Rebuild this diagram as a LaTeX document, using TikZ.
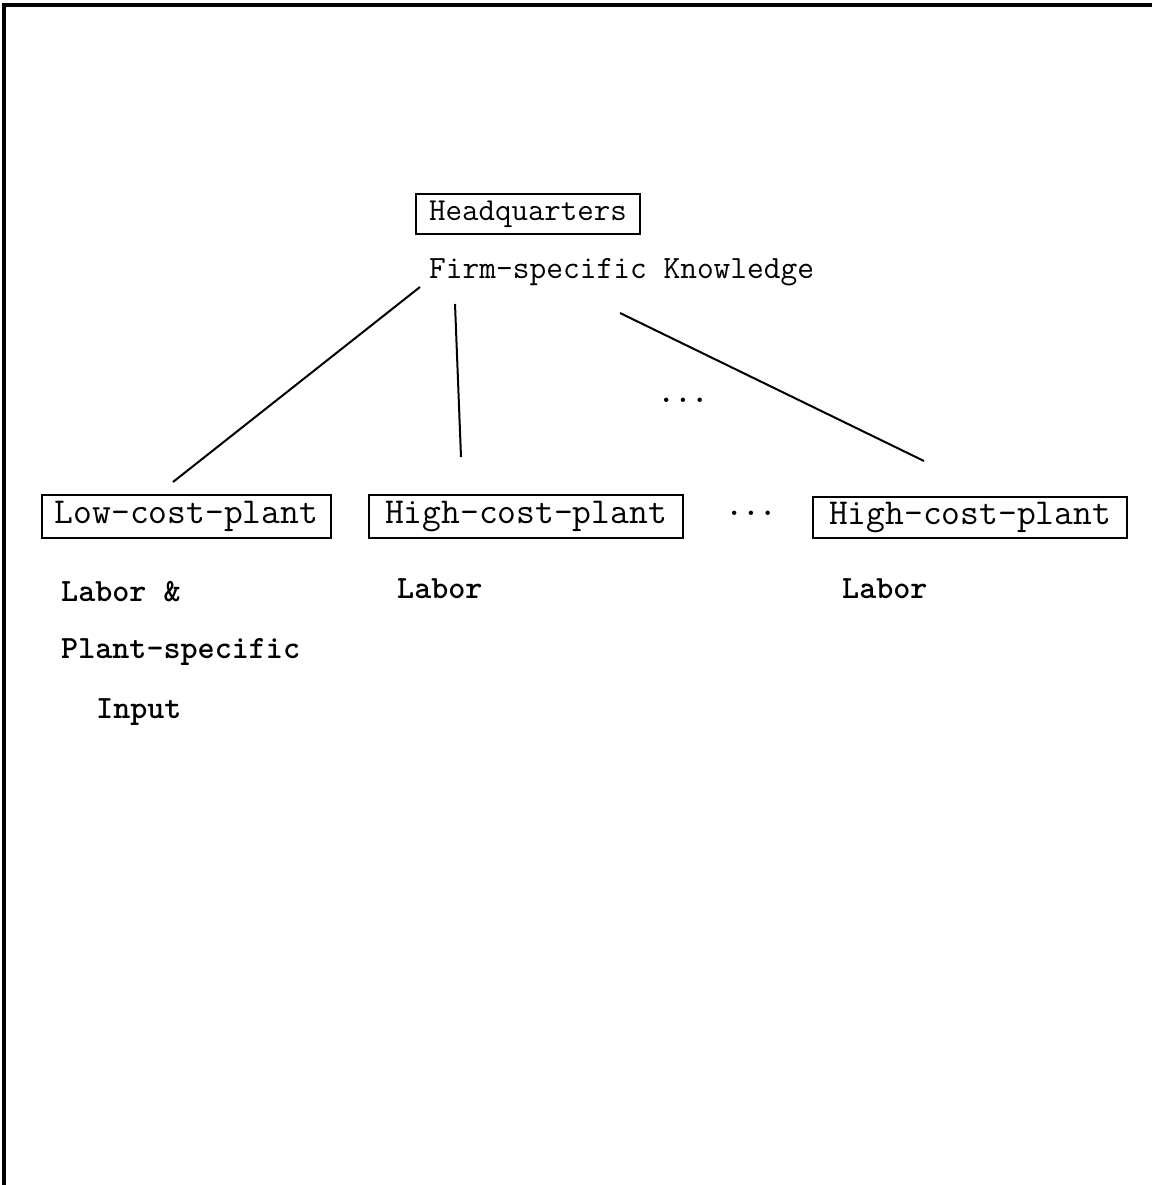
\documentclass[tikz,border=0pt]{standalone}
\usepackage{fontspec}
\begin{document}
\begin{tikzpicture}[x=1pt,y=-1pt,
  box/.style={draw,line width=1.8pt,inner sep=0pt,minimum height=43pt,font=\ttfamily\fontsize{36.5}{36.5}\selectfont,anchor=center},
  lbl/.style={inner sep=0pt,anchor=west,font=\ttfamily\bfseries\fontsize{32.5}{32.5}\selectfont},
  conn/.style={line width=2pt}]
\useasboundingbox (0,0) rectangle (1152,1185);
% frame (top and left edges)
\draw[line width=3.5pt] (1152,5) -- (4,5) -- (4,1185);
% nodes
\node[box,minimum width=224pt,minimum height=40pt,font=\ttfamily\fontsize{32}{32}\selectfont] (hq) at (528,214) {Headquarters};
\node[lbl,font=\ttfamily\fontsize{32.5}{32.5}\selectfont] (know) at (429,272) {Firm-specific Knowledge};
\node[box,minimum width=289pt] (low) at (186.5,516.5) {Low-cost-plant};
\node[box,minimum width=314pt] (high1) at (526,516.5) {High-cost-plant};
\node[box,minimum width=314pt,minimum height=41pt] (high2) at (970,517.5) {High-cost-plant};
\node[inner sep=0pt,font=\ttfamily\bfseries\fontsize{32}{32}\selectfont] (dots1) at (683,400) {...};
\node[inner sep=0pt,font=\ttfamily\bfseries\fontsize{32}{32}\selectfont] (dots2) at (751,513) {...};
\node[lbl] (lab1) at (61,592) {Labor \&};
\node[lbl] (lab2) at (61,652) {Plant-specific};
\node[lbl] (lab3) at (96,712) {Input};
\node[lbl] (lab4) at (397,589) {Labor};
\node[lbl] (lab5) at (842,589) {Labor};
% connector ends
\coordinate (a1) at (420,287);
\coordinate (a2) at (173,482);
\coordinate (b1) at (455,304);
\coordinate (b2) at (461,457);
\coordinate (c1) at (620,313);
\coordinate (c2) at (924,461);
\draw[conn] (a1) -- (a2);
\draw[conn] (b1) -- (b2);
\draw[conn] (c1) -- (c2);
\end{tikzpicture}
\end{document}
